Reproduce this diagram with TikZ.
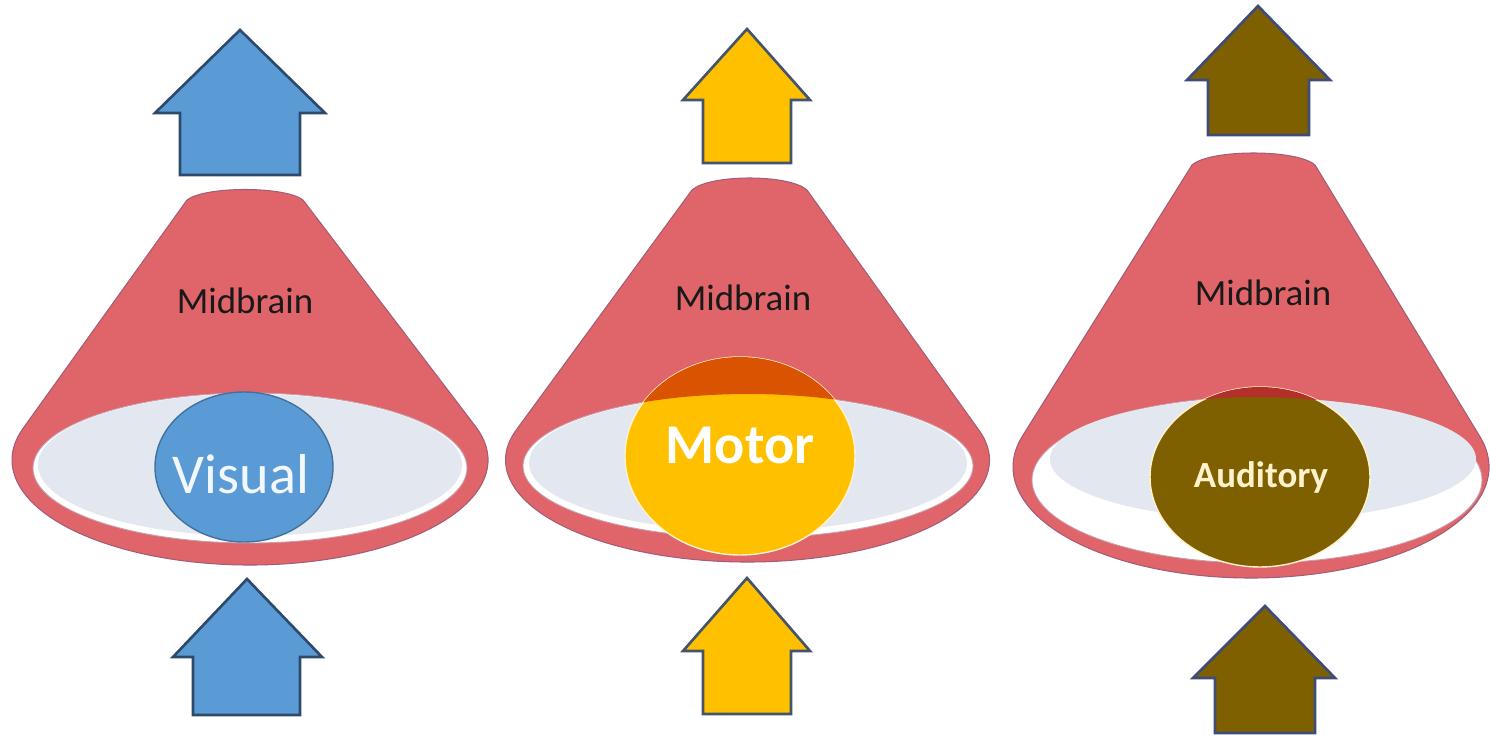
\documentclass[tikz,border=0pt]{standalone}
\usepackage{fontspec}
\setmainfont{Carlito}
\usepackage{xcolor}

\definecolor{conered}{HTML}{E0656A}
\definecolor{coneline}{HTML}{A35D75}
\definecolor{holegray}{HTML}{E3E7F0}
\definecolor{visualblue}{HTML}{5B9BD5}
\definecolor{visualedge}{HTML}{41719C}
\definecolor{motoryellow}{HTML}{FFC000}
\definecolor{motorshade}{HTML}{D95300}
\definecolor{audbrown}{HTML}{7F6000}
\definecolor{audshade}{HTML}{B3302A}
\definecolor{paleedge}{HTML}{FFF2CC}
\definecolor{blueedge}{HTML}{2E4A6B}
\definecolor{yellowedge}{HTML}{44546A}
\definecolor{brownedge}{HTML}{3E4C78}

\begin{document}
\begin{tikzpicture}[
  x=0.02cm, y=-0.02cm,
  cone/.style={fill=conered, draw=coneline, line width=0.6pt},
  opening/.style={fill=white, draw=coneline!60, line width=0.5pt},
  hollow/.style={fill=holegray},
  area/.style={line width=0.8pt},
  lift/.style={line width=1.5pt, line join=miter},
  tag/.style={anchor=base, inner sep=0pt, text=black!90, font=\fontsize{21}{25}\selectfont},
  areatag/.style={anchor=base, inner sep=0pt}
]
  \useasboundingbox (0,0) rectangle (1490,736);

  \draw[lift, fill=visualblue, draw=blueedge] (240,30) -- (325,113) -- (300,113) -- (300,175) -- (180,175) -- (180,113) -- (155,113) -- cycle;
  \draw[lift, fill=visualblue, draw=blueedge] (247,579) -- (322,657) -- (300,657) -- (300,715) -- (193,715) -- (193,657) -- (173,657) -- cycle;
  \draw[lift, fill=motoryellow, draw=yellowedge] (747,29) -- (810,100) -- (791,100) -- (791,163) -- (703,163) -- (703,100) -- (683,100) -- cycle;
  \draw[lift, fill=motoryellow, draw=yellowedge] (747,578) -- (810,651) -- (791,651) -- (791,714) -- (703,714) -- (703,651) -- (683,651) -- cycle;
  \draw[lift, fill=audbrown, draw=brownedge] (1258,6) -- (1330,80) -- (1309,80) -- (1309,135) -- (1208,135) -- (1208,80) -- (1187,80) -- cycle;
  \draw[lift, fill=audbrown, draw=brownedge] (1265,606) -- (1335,678) -- (1315,678) -- (1315,733) -- (1215,733) -- (1215,678) -- (1193,678) -- cycle;

  \draw[cone] (187,200) .. controls (205,186) and (285,186) .. (303,200)
    -- ([shift={(250,460)}]-18.6:238 and 105)
    arc[start angle=-18.6, end angle=197.6, x radius=238, y radius=105] -- cycle;
  \draw[opening] (250,468) ellipse[x radius=217, y radius=75];
  \fill[hollow] (250,465) ellipse[x radius=212, y radius=71];
  \draw[area, fill=visualblue, draw=visualedge] (244,467) ellipse[x radius=89, y radius=75];
  \node[tag] (mid1) at (245,314) {Midbrain};
  \node[areatag, text=white!92!visualblue, font=\fontsize{32}{36}\selectfont] (visual) at (241,493) {Visual};

  \draw[cone] (692,190) .. controls (710,174) and (789,174) .. (807,190)
    -- ([shift={(747.5,460)}]-16.8:242 and 102)
    arc[start angle=-16.8, end angle=197.2, x radius=242, y radius=102] -- cycle;
  \draw[opening] (748,466) ellipse[x radius=225, y radius=72];
  \fill[hollow] (748,463) ellipse[x radius=219, y radius=68];
  \draw[area, fill=motoryellow, draw=paleedge] (740,456) ellipse[x radius=115, y radius=99];
  \begin{scope}
    \clip (740,456) ellipse[x radius=115, y radius=99];
    \clip (600,300) rectangle (880,440);
    \fill[motorshade, even odd rule] (600,300) rectangle (880,600) (748,466) ellipse[x radius=225, y radius=72];
  \end{scope}
  \node[tag] (mid2) at (743,311) {Midbrain};
  \node[areatag, text=white, font=\fontsize{32}{36}\selectfont\bfseries] (motor) at (740,463) {Motor};

  \draw[cone] (1192,165) .. controls (1210,149) and (1297,149) .. (1315,165)
    -- ([shift={(1251,467)}]-15.85:238 and 111)
    arc[start angle=-15.85, end angle=196.25, x radius=238, y radius=111] -- cycle;
  \draw[opening] (1257,480) ellipse[x radius=225, y radius=83];
  \fill[hollow] (1263,459) ellipse[x radius=213, y radius=61];
  \draw[area, fill=audbrown, draw=paleedge] (1260,477) ellipse[x radius=110, y radius=90];
  \begin{scope}
    \clip (1260,477) ellipse[x radius=110, y radius=90];
    \clip (1140,370) rectangle (1380,440);
    \fill[audshade, even odd rule] (1140,370) rectangle (1380,600) (1257,480) ellipse[x radius=225, y radius=83];
  \end{scope}
  \node[tag] (mid3) at (1263,306) {Midbrain};
  \node[areatag, text=paleedge, font=\fontsize{21}{25}\selectfont\bfseries] (auditory) at (1261,487) {Auditory};
\end{tikzpicture}
\end{document}
